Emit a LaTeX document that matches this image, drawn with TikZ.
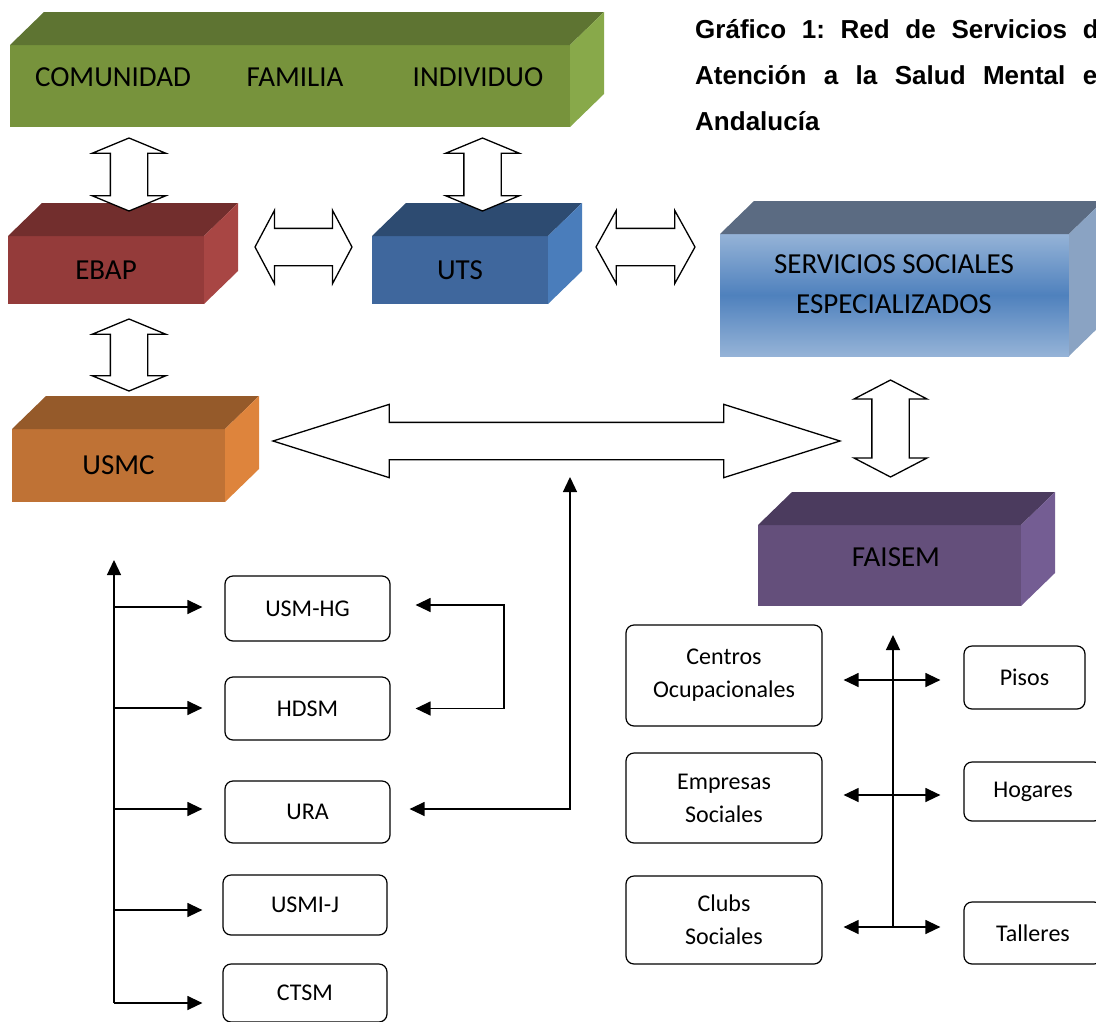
\documentclass[tikz,border=0pt]{standalone}
\usepackage{fontspec}
\setmainfont{Carlito}
\newfontfamily\titulofont{Liberation Sans}
\usetikzlibrary{shapes.arrows, arrows.meta, positioning}

\definecolor{verde}{HTML}{77933C}
\definecolor{verdetapa}{HTML}{5E7432}
\definecolor{verdelado}{HTML}{88A94A}
\definecolor{rojo}{HTML}{943B3A}
\definecolor{rojotapa}{HTML}{722E2D}
\definecolor{rojolado}{HTML}{A84644}
\definecolor{azul}{HTML}{3F679D}
\definecolor{azultapa}{HTML}{2D4B71}
\definecolor{azullado}{HTML}{4A7DBB}
\definecolor{celeste}{HTML}{95B3D7}
\definecolor{celestemedio}{HTML}{4F81BD}
\definecolor{celestetapa}{HTML}{5B6B82}
\definecolor{celestelado}{HTML}{8AA3C3}
\definecolor{naranja}{HTML}{BF7235}
\definecolor{naranjatapa}{HTML}{955A2A}
\definecolor{naranjalado}{HTML}{DE843C}
\definecolor{morado}{HTML}{644F7B}
\definecolor{moradotapa}{HTML}{4B3B5E}
\definecolor{moradolado}{HTML}{745D93}

% top and right face of a 3d box, drawn on the front node #1
\newcommand{\cubo}[3]{%
  \fill[#2] (#1.north west) -- ++(34,-33) -- ([shift={(34,-33)}]#1.north east) -- (#1.north east) -- cycle;
  \fill[#3] (#1.north east) -- ++(34,-33) -- ([shift={(34,-33)}]#1.south east) -- (#1.south east) -- cycle;
}

\tikzset{
x=1pt, y=-1pt, % coordinates in pixels, y grows downwards
frente/.style={inner sep=0pt, outer sep=0pt, font=\fontsize{29}{35}\selectfont}, % front face of a box
rotulo/.style={font=\fontsize{29}{35}\selectfont, inner sep=0pt},
titulo/.style={font=\titulofont\bfseries\fontsize{26}{30}\selectfont, inner sep=0pt, anchor=base west},
unidad/.style={draw, line width=1.2pt, rounded corners=8pt, minimum width=165pt, align=center, font=\fontsize{24}{33}\selectfont},
bloque/.style={double arrow, draw, line width=1.3pt, fill=white, inner xsep=0pt, inner ysep=18pt, outer sep=0pt, double arrow head extend=18pt, double arrow head indent=0pt}, % white block arrows
vertical/.style={bloque, shape border rotate=90, inner xsep=18pt, inner ysep=0pt, double arrow tip angle=135},
flecha/.style={-{Triangle[length=15pt,width=14pt]}, line width=1.3pt},
doble/.style={{Triangle[length=15pt,width=14pt]}-{Triangle[length=15pt,width=14pt]}, line width=1.3pt},
}

\begin{document}
\frenchspacing
\begin{tikzpicture}
\useasboundingbox (0,0) rectangle (1096,1021);
\clip (0,0) rectangle (1096,1021);

% title
\node[titulo] (t1) at (695,38) {\makebox[418pt][s]{Gráfico 1: Red de Servicios de}};
\node[titulo] (t2) at (695,84) {\makebox[418pt][s]{Atención a la Salud Mental en}};
\node[titulo] (t3) at (695,130) {Andalucía};

% 3d boxes
\node[frente, fill=verde, minimum width=560pt, minimum height=82pt] (fila) at (290,86) {};
\cubo{fila}{verdetapa}{verdelado}
\node[rotulo] (comunidad) at (113,77) {COMUNIDAD};
\node[rotulo] (familia) at (295,77) {FAMILIA};
\node[rotulo] (individuo) at (478,77) {INDIVIDUO};

\node[frente, fill=rojo, minimum width=196pt, minimum height=68pt] (ebap) at (106,270) {EBAP};
\cubo{ebap}{rojotapa}{rojolado}

\node[frente, fill=azul, minimum width=176pt, minimum height=68pt] (uts) at (460,270) {UTS};
\cubo{uts}{azultapa}{azullado}

\node[frente, top color=celeste, bottom color=celeste, middle color=celestemedio, minimum width=349pt, minimum height=122pt] (sse) at (894.5,295) {};
\cubo{sse}{celestetapa}{celestelado}
\node[rotulo, align=center, font=\fontsize{29}{40}\selectfont] (ssetxt) at (894,284) {SERVICIOS SOCIALES\\ESPECIALIZADOS};

\node[frente, fill=naranja, minimum width=213pt, minimum height=73pt] (usmc) at (118.5,465.5) {USMC};
\cubo{usmc}{naranjatapa}{naranjalado}

\node[frente, fill=morado, minimum width=263pt, minimum height=81pt] (faisem) at (889.5,565.5) {};
\cubo{faisem}{moradotapa}{moradolado}
\node[rotulo] (faisemtxt) at (896,557) {FAISEM};

% block arrows
\node[vertical, minimum height=73pt] (a1) at (129,174.5) {};
\node[vertical, minimum height=73pt] (a2) at (482.5,174.5) {};
\node[vertical, minimum height=72pt] (a5) at (129,355) {};
\node[vertical, minimum height=97pt, double arrow tip angle=125] (a7) at (890.5,428.5) {};
\node[bloque, minimum height=97pt, double arrow tip angle=124] (a3) at (303.5,247) {};
\node[bloque, minimum height=99pt, double arrow tip angle=122] (a4) at (645.5,247) {};
\node[bloque, minimum height=567pt, double arrow tip angle=35] (gran) at (556.5,441) {};

% units of mental health
\node[unidad, minimum height=65pt] (usmhg) at (307.5,608.5) {USM-HG};
\node[unidad, minimum height=63pt] (hdsm) at (307.5,708.5) {HDSM};
\node[unidad, minimum height=62pt] (ura) at (307.5,812) {URA};
\node[unidad, minimum height=60pt, minimum width=164pt] (usmij) at (305,905) {USMI-J};
\node[unidad, minimum height=58pt, minimum width=164pt] (ctsm) at (305,993) {CTSM};

% FAISEM programmes
\node[unidad, minimum width=196pt, minimum height=101pt] (centros) at (724,675.5) {Centros\\Ocupacionales};
\node[unidad, minimum width=196pt, minimum height=90pt] (empresas) at (724,798) {Empresas\\Sociales};
\node[unidad, minimum width=196pt, minimum height=88pt] (clubs) at (724,920) {Clubs\\Sociales};
\node[unidad, minimum width=121pt, minimum height=63pt] (pisos) at (1024.5,677.5) {Pisos};
\node[unidad, minimum width=138pt, minimum height=59pt] (hogares) at (1033,791.5) {Hogares};
\node[unidad, minimum width=138pt, minimum height=62pt] (talleres) at (1033,933) {Talleres};

% left tree
\coordinate (cima) at (114,560);
\coordinate (b1) at (114,607);
\coordinate (b2) at (114,708);
\coordinate (b3) at (114,809);
\coordinate (b4) at (114,910);
\coordinate (pie) at (114,1003);
\draw[flecha] (pie) -- (cima);
\draw[flecha] (b1) -- ([xshift=-22pt]usmhg.west |- b1);
\draw[flecha] (b2) -- ([xshift=-22pt]hdsm.west |- b2);
\draw[flecha] (b3) -- ([xshift=-22pt]ura.west |- b3);
\draw[flecha] (b4) -- ([xshift=-20pt]usmij.west |- b4);
\draw[flecha] (pie) -- ([xshift=-20pt]ctsm.west |- pie);

\coordinate (codo) at (504,605);
\draw[doble] ([xshift=25pt]usmhg.east |- codo) -- (codo) |- ([xshift=25pt]hdsm.east);
\coordinate (enlace) at (570,477);
\draw[doble] ([xshift=19pt]ura.east |- b3) -| (enlace);

% right tree
\coordinate (tope) at (893,635);
\coordinate (r1) at (893,680);
\coordinate (r2) at (893,795);
\coordinate (r3) at (893,927);
\draw[flecha] (r3) -- (tope);
\draw[doble] ([xshift=21pt]centros.east |- r1) -- ([xshift=-23pt]pisos.west |- r1);
\draw[doble] ([xshift=21pt]empresas.east |- r2) -- ([xshift=-23pt]hogares.west |- r2);
\draw[doble] ([xshift=21pt]clubs.east |- r3) -- ([xshift=-23pt]talleres.west |- r3);
\end{tikzpicture}
\end{document}
